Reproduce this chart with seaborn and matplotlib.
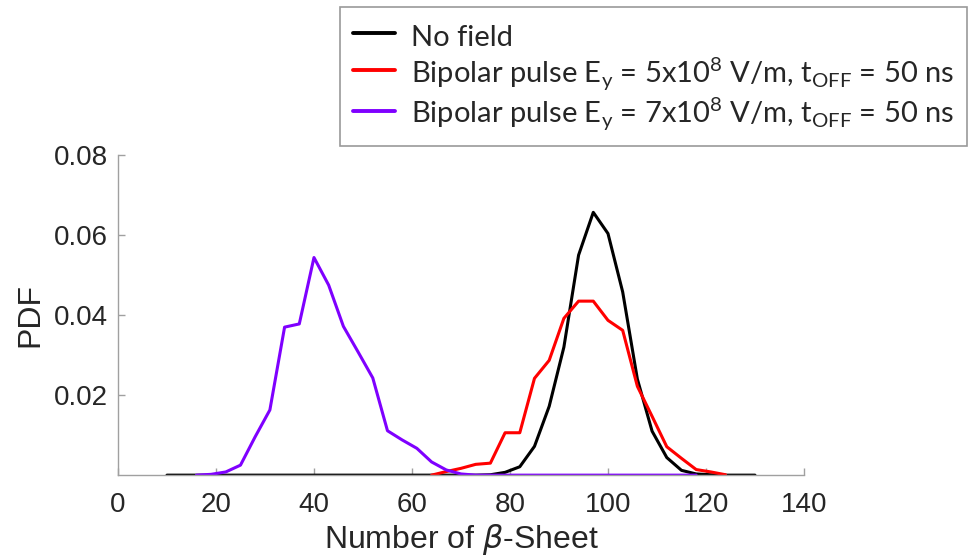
import numpy as np
import pandas as pd
import matplotlib
matplotlib.use("Agg")
import matplotlib.pyplot as plt
import seaborn as sns

# data (bins of width 3)
x_nofield = list(range(10, 131, 3))
pdf_nofield = [0]*22 + [0.0001, 0.0007, 0.0021, 0.0072, 0.0172, 0.032, 0.055, 0.0657,
                        0.0604, 0.0458, 0.024, 0.011, 0.0044, 0.0012, 0.0003, 0.0001,
                        0, 0, 0]
x_ey5 = list(range(64, 125, 3))
pdf_ey5 = [0, 0.0009, 0.0017, 0.0027, 0.003, 0.0106, 0.0106, 0.0242, 0.0287, 0.0392,
           0.0435, 0.0435, 0.0387, 0.0362, 0.0222, 0.0147, 0.0071, 0.0042, 0.0014,
           0.0008, 0.0001]
x_ey7 = list(range(16, 119, 3))
pdf_ey7 = [0, 0.0002, 0.0008, 0.0025, 0.0096, 0.0163, 0.037, 0.0378, 0.0544, 0.0475,
           0.0372, 0.0308, 0.0243, 0.0111, 0.0088, 0.0067, 0.0033, 0.0013, 0.0003] + [0]*16

labels = ["No field",
          r"Bipolar pulse E$_\mathregular{y}$ = 5x10$^\mathregular{8}$ V/m, t$_\mathregular{OFF}$ = 50 ns",
          r"Bipolar pulse E$_\mathregular{y}$ = 7x10$^\mathregular{8}$ V/m, t$_\mathregular{OFF}$ = 50 ns"]
colors = ["#000000", "#ff0000", "#7f00ff"]

df = pd.concat([
    pd.DataFrame({"x": x_nofield, "pdf": pdf_nofield, "series": labels[0]}),
    pd.DataFrame({"x": x_ey5, "pdf": pdf_ey5, "series": labels[1]}),
    pd.DataFrame({"x": x_ey7, "pdf": pdf_ey7, "series": labels[2]}),
])

sns.set_style("ticks")
plt.rcParams["font.family"] = ["Liberation Sans", "DejaVu Sans"]
plt.rcParams["mathtext.fontset"] = "dejavusans"

fig = plt.figure(figsize=(9.71, 5.59), dpi=100)
ax = fig.add_axes([0.1215, 0.150, 0.7065, 0.5725])

sns.lineplot(data=df, x="x", y="pdf", hue="series", hue_order=labels,
             palette=colors, linewidth=2.2, ax=ax, estimator=None, sort=False)

ax.set_xlim(0, 140)
ax.set_ylim(0, 0.08)
ax.set_xticks(range(0, 141, 20))
ax.set_yticks([0.02, 0.04, 0.06, 0.08])
ax.set_yticklabels(["0.02", "0.04", "0.06", "0.08"])
ax.tick_params(direction="in", length=5, width=1, color="#a0a0a0", labelsize=20)
ax.tick_params(axis="x", pad=12)
ax.tick_params(axis="y", pad=7)
for s in ["top", "right"]:
    ax.spines[s].set_visible(False)
for s in ["left", "bottom"]:
    ax.spines[s].set_color("#a0a0a0")
    ax.spines[s].set_linewidth(1)

ax.set_xlabel(r"Number of $\beta$-Sheet", fontsize=23, labelpad=3)
ax.set_ylabel("PDF", fontsize=23, labelpad=6)

handles, _ = ax.get_legend_handles_labels()
leg = ax.legend(handles, labels, loc="upper right",
                bbox_to_anchor=(967 / 971, 1 - 7 / 559),
                bbox_transform=fig.transFigure, borderaxespad=0,
                prop={"family": "Lato", "size": 21}, frameon=True,
                fancybox=False, edgecolor="#808080", handlelength=1.41,
                handleheight=1.3, handletextpad=0.55, labelspacing=0.12,
                borderpad=0.45)
leg.get_frame().set_linewidth(1.2)
for line in leg.get_lines():
    line.set_linewidth(2.8)

fig.savefig("out.png", dpi=100)
